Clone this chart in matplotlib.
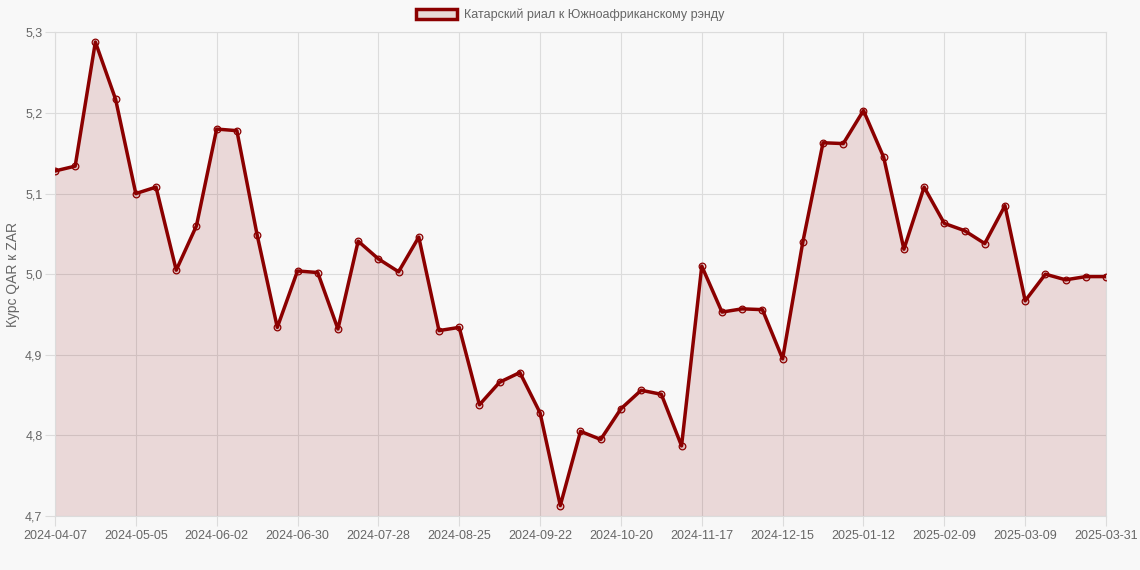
import numpy as np
import pandas as pd
import matplotlib
matplotlib.use("Agg")
import matplotlib.pyplot as plt
from matplotlib.ticker import FuncFormatter

# weekly dates, last point is 2025-03-31
dates = list(pd.date_range("2024-04-07", "2025-03-30", freq="7D").strftime("%Y-%m-%d")) + ["2025-03-31"]

rate = [5.128, 5.134, 5.288, 5.217, 5.100, 5.108, 5.005, 5.060, 5.180, 5.178,
        5.049, 4.934, 5.004, 5.002, 4.932, 5.041, 5.019, 5.003, 5.046, 4.930,
        4.934, 4.838, 4.866, 4.878, 4.828, 4.713, 4.805, 4.795, 4.833, 4.856,
        4.851, 4.787, 5.010, 4.953, 4.957, 4.956, 4.895, 5.040, 5.163, 5.162,
        5.203, 5.145, 5.031, 5.108, 5.063, 5.054, 5.038, 5.085, 4.967, 5.000,
        4.993, 4.997, 4.997]

yticks = [4.7, 4.8, 4.9, 5.0, 5.1, 5.2, 5.3]
label = "Катарский риал к Южноафриканскому рэнду"

plt.rcParams['font.family'] = ['Liberation Sans', 'DejaVu Sans']

bg = "#f8f8f8"
line_col = "#8b0000"
fill_col = (139/255, 0, 0, 0.125)
grid_col = "#dcdcdc"
text_col = "#666666"

fig = plt.figure(figsize=(11.4, 5.7), dpi=100, facecolor=bg)
ax = fig.add_axes([0.0482, 0.0947, 0.922, 0.8486], facecolor=bg)

x = np.arange(len(rate))
ax.fill_between(x, rate, 4.7, color=fill_col, linewidth=0, zorder=2)
ax.plot(x, rate, color=line_col, linewidth=2.5, zorder=3,
        marker="o", markersize=4.8, markerfacecolor=fill_col,
        markeredgecolor=line_col, markeredgewidth=0.9, label=label)

ax.set_xlim(0, len(rate) - 1)
ax.set_ylim(4.7, 5.3)

tick_idx = list(range(0, len(rate) - 1, 4)) + [len(rate) - 1]
ax.set_xticks(tick_idx)
ax.set_xticklabels([dates[i] for i in tick_idx])
ax.set_yticks(yticks)
ax.yaxis.set_major_formatter(FuncFormatter(lambda v, p: f"{v:.1f}".replace(".", ",")))

ax.grid(True, color=grid_col, linewidth=0.8, zorder=0)
for s in ax.spines.values():
    s.set_color(grid_col)
    s.set_linewidth(0.8)
ax.tick_params(axis="both", colors=grid_col, labelcolor=text_col, labelsize=9,
               length=7, width=0.8)
ax.tick_params(axis="x", pad=3)
ax.tick_params(axis="y", pad=2)

ax.set_ylabel("Курс QAR к ZAR", color=text_col, fontsize=10, labelpad=4)

leg = fig.legend(handles=[plt.Rectangle((0, 0), 1, 1, facecolor=(0.91, 0.85, 0.84),
                                        edgecolor=line_col, linewidth=2.5)],
                 labels=[label], loc="upper center", bbox_to_anchor=(0.5, 1.0),
                 frameon=False, fontsize=9, handlelength=3.3, handleheight=0.9,
                 handletextpad=0.5, borderaxespad=0.3)
for t in leg.get_texts():
    t.set_color(text_col)

fig.savefig("out.png", dpi=100, facecolor=bg)
